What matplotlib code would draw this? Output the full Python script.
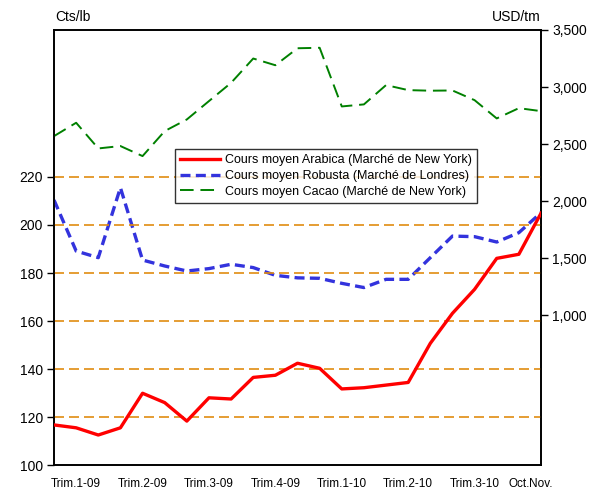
import numpy as np
import matplotlib.pyplot as plt

plt.rcParams['font.family'] = ['Liberation Sans Narrow', 'Liberation Sans', 'DejaVu Sans']

# mois de janvier 2009 a novembre 2010
mois = ['', 'Trim.1-09', '', '', 'Trim.2-09', '', '', 'Trim.3-09', '', '',
        'Trim.4-09', '', '', 'Trim.1-10', '', '', 'Trim.2-10', '', '',
        'Trim.3-10', '', 'Oct.', 'Nov.']

# Arabica, cts/lb (axe gauche)
arabica = [116.7, 115.5, 112.5, 115.5, 129.9, 126.0, 118.3, 128.0, 127.5, 136.5,
           137.4, 142.4, 140.3, 131.7, 132.2, 133.3, 134.4, 150.7, 163.2, 173.2,
           186.1, 187.8, 204.9]

# Robusta, USD/tm (axe droit)
robusta = [2010, 1563, 1505, 2118, 1484, 1432, 1388, 1409, 1447, 1418,
           1350, 1328, 1324, 1280, 1243, 1315, 1315, 1505, 1694, 1689,
           1642, 1724, 1899]

# Cacao, USD/tm (axe droit)
cacao = [2570, 2687, 2462, 2483, 2395, 2614, 2716, 2877, 3037, 3250,
         3191, 3340, 3344, 2830, 2848, 3017, 2973, 2968, 2970, 2885,
         2725, 2815, 2789]

gauche_ticks = [100, 120, 140, 160, 180, 200, 220]
droite_ticks = [1000, 1500, 2000, 2500, 3000, 3500]

x = np.arange(len(mois))

fig = plt.figure(figsize=(5.89, 4.90), dpi=100)
ax = fig.add_axes([0.0917, 0.051, 0.8268, 0.8878])
ax2 = ax.twinx()

# grille horizontale en tirets orange
for v in gauche_ticks[1:]:
    ax.axhline(v, color='#E08C10', lw=1.2, ls=(0, (6, 3)), zorder=1)

l1, = ax.plot(x, arabica, color='#FF0000', lw=2.4, zorder=4,
              label='Cours moyen Arabica (Marché de New York)')
l2, = ax2.plot(x, robusta, color='#3333DD', lw=2.4, ls=(0, (3, 1.6)), zorder=4,
               label='Cours moyen Robusta (Marché de Londres)')
l3, = ax2.plot(x, cacao, color='#008000', lw=1.4, ls=(0, (7, 3.5)), zorder=4,
               label='Cours moyen Cacao (Marché de New York)')

ax.set_xlim(0, len(mois) - 1)
ax.set_ylim(100, 281.25)
ax2.set_ylim(-312, 3500)

ax.set_yticks(gauche_ticks)
ax2.set_yticks(droite_ticks)
ax2.set_yticklabels([f'{v:,}' for v in droite_ticks])

pos = [i for i, m in enumerate(mois) if m]
ax.set_xticks(pos)
ax.set_xticklabels([mois[i] for i in pos], fontsize=8.5)
ax.tick_params(axis='x', length=0, pad=9)
ax.tick_params(axis='y', direction='out', length=5, width=1, labelsize=10, pad=3)
ax2.tick_params(axis='y', direction='out', length=5, width=1, labelsize=10, pad=3)

for a in (ax, ax2):
    for s in a.spines.values():
        s.set_linewidth(1.2)
        s.set_color('black')

fig.text(0.093, 0.965, 'Cts/lb', fontsize=10, ha='left', va='center')
fig.text(0.918, 0.965, 'USD/tm', fontsize=10, ha='right', va='center')

leg = ax.legend(handles=[l1, l2, l3], loc='upper left',
                bbox_to_anchor=(0.248, 0.726), fontsize=9, frameon=True,
                fancybox=False, borderpad=0.4, labelspacing=0.3,
                handlelength=3.2, handletextpad=0.4, borderaxespad=0)
leg.get_frame().set_edgecolor('black')
leg.get_frame().set_linewidth(1.0)
leg.set_zorder(10)
ax.set_zorder(ax2.get_zorder() + 1)
ax.patch.set_visible(False)

plt.savefig('out.png', dpi=100)
plt.close(fig)
